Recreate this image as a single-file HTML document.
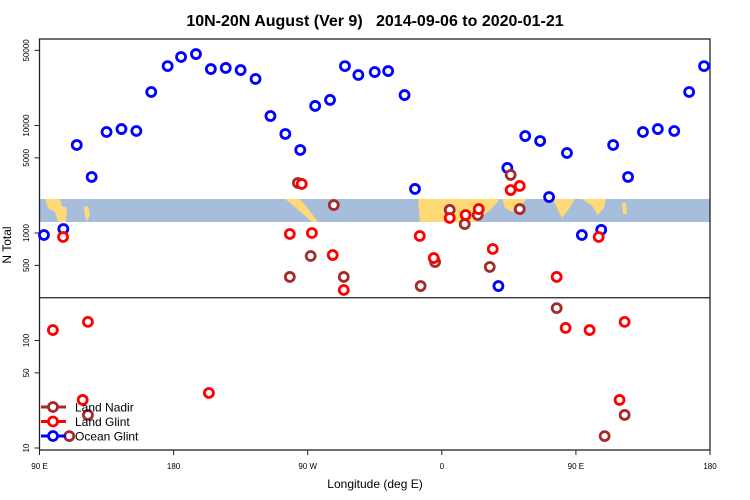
<!DOCTYPE html>
<html><head><meta charset="utf-8"><style>
html,body{margin:0;padding:0;background:#fff;}
svg{display:block;font-family:"Liberation Sans",sans-serif;}
</style></head><body>
<svg id="chart" width="750" height="500" viewBox="0 0 750 500" xmlns="http://www.w3.org/2000/svg">
<text x="375" y="26" text-anchor="middle" font-size="16" font-weight="bold" xml:space="preserve">10N-20N August (Ver 9)   2014-09-06 to 2020-01-21</text>
<text x="375" y="488" text-anchor="middle" font-size="12">Longitude (deg E)</text>
<text transform="translate(11,245) rotate(-90)" text-anchor="middle" font-size="12">N Total</text>
<g id="map">
<rect x="39.5" y="199" width="670.5" height="23" fill="#a6bddb"/>
<polygon fill="#fed976" points="45,199 60,199 62,206 67,208 66,222 58,222 55,212 48,208"/>
<polygon fill="#fed976" points="84,207 88,206 90,214 87,222 85,216"/>
<polygon fill="#fed976" points="285,199 300,199 305,205 312,214 318,222 312,222 304,215 295,207"/>
<polygon fill="#fed976" points="418,199 500,199 496,204 490,210 483,216 476,222 420,222"/>
<polygon fill="#fed976" points="502,199 527,199 520,206 512,212 505,208"/>
<polygon fill="#fed976" points="553,199 575,199 568,210 562,218 558,210"/>
<polygon fill="#fed976" points="582,199 606,199 604,208 598,215 592,206"/>
<polygon fill="#fed976" points="622,203 626,203 627,214 623,214"/>
</g>
<g id="axes"></g>
<g id="marks"></g>
<g id="legend"></g>
</svg>
<script>
const ocLon=[93,106,115,125,135,145,155,165,176,185,195,205,215,225,235,245,255,265,275,285,295,304,315,324,335,342,398,404,416,426,432,444,454,467,475,485,495,505,516,526,536];
const ocVal=[958,1090,6590,3320,8700,9270,8890,20500,35700,43400,46200,33500,34300,32800,27100,12250,8340,5920,15200,17300,35700,29500,31400,32100,19200,2570,321,4030,7980,7180,2160,5550,958,1070,6590,3320,8700,9270,8890,20500,35700];
const ndLon=[110,122.5,263.4,287.5,272,258,294.2,345.8,355.5,365.3,375.4,384.1,392.2,406.2,412.3,437.1,469.3,482.7];
const ndVal=[12.9,20.3,2920,1820,611,390,390,321,537,1640,1210,1470,483,3470,1670,200,12.9,20.3];
const lgLon=[105.8,99,122.5,119,203.7,266,258,272.8,286.8,294.2,345.2,354.6,365.3,376,384.8,394.2,406.2,412.3,437.1,465.3,443.1,459.2,482.7,479.3];
const lgVal=[918,125,149,28,32.5,2860,979,1000,624,295,938,585,1380,1470,1670,710,2510,2740,390,918,131,125,149,28];
const yTickVals=[10,50,100,500,1000,5000,10000,50000];
const yTickLabels=["10","50","100","500","1000","5000","10000","50000"];
const xTickVals=[90,180,270,360,450,540];
const xTickLabels=["90 E","180","90 W","0","90 E","180"];
const thresholdVal=250;

const NS="http://www.w3.org/2000/svg";
const X0=39.5,X1=710,Y0=39,Y1=450;
function xs(l){return X0+(l-90)*(X1-X0)/450;}
function ys(v){return 448-107.5*(Math.log10(v)-1);}
function mk(tag,attrs,parent){const e=document.createElementNS(NS,tag);for(const k in attrs)e.setAttribute(k,attrs[k]);parent.appendChild(e);return e;}
const axes=document.getElementById('axes'),marks=document.getElementById('marks'),leg=document.getElementById('legend');

let frame=mk('rect',{x:X0,y:Y0,width:X1-X0,height:Y1-Y0,fill:'none',stroke:'#222','stroke-width':1.3},axes);


let th=mk('line',{x1:X0,x2:X1,y1:ys(thresholdVal),y2:ys(thresholdVal),stroke:'#222','stroke-width':1.2},axes);



yTickVals.forEach((v,i)=>{
  const y=ys(v);
  let t=mk('line',{x1:X0-5,x2:X0,y1:y,y2:y,stroke:'#222'},axes);
  
  
  let tx=mk('text',{transform:`translate(29,${y}) rotate(-90)`,'text-anchor':'middle','font-size':8},axes);
  tx.textContent=yTickLabels[i];
  
  
});
xTickVals.forEach((v,i)=>{
  const x=xs(v);
  let t=mk('line',{x1:x,x2:x,y1:Y1,y2:Y1+5,stroke:'#222'},axes);
  
  
  let tx=mk('text',{x:x,y:469,'text-anchor':'middle','font-size':8},axes);
  tx.textContent=xTickLabels[i];
  
  
});

function series(lons,vals,color,name){
  lons.forEach((l,i)=>{
    let c=mk('circle',{cx:xs(l),cy:ys(vals[i]),r:4.5,fill:'#fff',stroke:color,'stroke-width':2.8},marks);
    
    
  });
}
series(ocLon,ocVal,'#0000ff','ocean-glint-point');
series(ndLon,ndVal,'#a52a2a','land-nadir-point');
series(lgLon,lgVal,'#ff0000','land-glint-point');

const legNames=['Land Nadir','Land Glint','Ocean Glint'];
const legColors=['#a52a2a','#ff0000','#0000ff'];
legNames.forEach((n,i)=>{
  const y=407+i*14.5;
  let g=mk('g',{},leg);
  
  
  mk('line',{x1:41,x2:66,y1:y,y2:y,stroke:legColors[i],'stroke-width':3},g);
  mk('circle',{cx:53,cy:y,r:4.5,fill:'#fff',stroke:legColors[i],'stroke-width':2.8},g);
  let t=mk('text',{x:75,y:y+4.5,'font-size':12},g);
  t.textContent=n;
});
</script>
</body></html>
